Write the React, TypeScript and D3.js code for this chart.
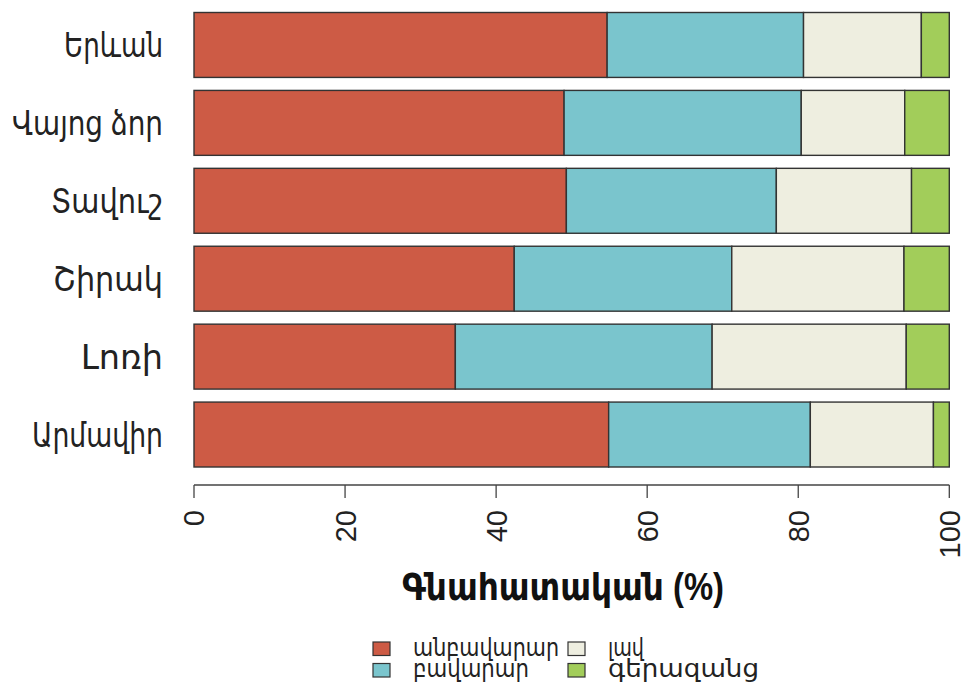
import React from "react";
import * as d3 from "d3";

const categories = ["Երևան", "Վայոց ձոր", "Տավուշ", "Շիրակ", "Լոռի", "Արմավիր"];
const seriesNames = ["անբավարար", "բավարար", "լավ", "գերազանց"];
const unsatisfactory = [54.7, 49.0, 49.3, 42.4, 34.6, 54.9];
const satisfactory = [26.0, 31.4, 27.8, 28.8, 34.0, 26.7];
const good = [15.6, 13.7, 17.9, 22.8, 25.7, 16.3];
const excellent = [3.7, 5.9, 5.0, 6.0, 5.7, 2.1];
const colors = ["#CD5B45", "#7AC5CD", "#EEEEE0", "#A2CD5A"];
const xTicks = [0, 20, 40, 60, 80, 100];
const xTitle = "Գնահատական (%)";

// measured text widths of the reference (narrow Armenian face)
const catLabelWidths = [99, 151, 112, 110, 82, 131];
const legendWidths = [146, 116, 36, 151];

const W = 966;
const H = 696;
const FONT = "'Liberation Sans', Arial, 'Noto Sans', 'DejaVu Sans', sans-serif";

export default function App() {
  const x = d3.scaleLinear().domain([0, 100]).range([194, 949.3]);
  const y = d3.scaleBand<string>().domain(categories).range([12.5, 467]).paddingInner(1 / 6).paddingOuter(0);

  const rows = categories.map((c, i) => ({
    cat: c,
    a: unsatisfactory[i],
    b: satisfactory[i],
    c2: good[i],
    d: excellent[i],
  }));
  const stack = d3.stack<any>().keys(["a", "b", "c2", "d"]);
  const series = stack(rows);

  const axisY = 485;
  const legendCols = [
    { x: 373, items: [0, 1] },
    { x: 568, items: [2, 3] },
  ];
  const legendRowY = [642, 663.5];

  return (
    <svg width={W} height={H} style={{ position: "absolute", left: 0, top: 0, background: "#fff" }} fontFamily={FONT}>
      <rect x={0} y={0} width={W} height={H} fill="#fff" />
      {series.map((s, si) => (
        <g key={si}>
          {s.map((d: any, i: number) => (
            <rect
              key={i}
              x={x(d[0])}
              y={y(categories[i])}
              width={x(d[1]) - x(d[0])}
              height={y.bandwidth()}
              fill={colors[si]}
              stroke="#333"
              strokeWidth={1.4}
            />
          ))}
        </g>
      ))}
      {categories.map((c, i) => (
        <text
          key={c}
          x={163}
          y={(y(c) as number) + y.bandwidth() / 2}
          dy="0.37em"
          textAnchor="end"
          fontSize={33}
          textLength={catLabelWidths[i]}
          lengthAdjust="spacingAndGlyphs"
          fill="#222"
        >
          {c}
        </text>
      ))}
      <line x1={x(0)} x2={x(100)} y1={axisY} y2={axisY} stroke="#444" strokeWidth={1.3} />
      {xTicks.map((t) => (
        <g key={t}>
          <line x1={x(t)} x2={x(t)} y1={axisY} y2={axisY + 13} stroke="#444" strokeWidth={1.3} />
          <text
            transform={`translate(${x(t)},${axisY + 25}) rotate(-90)`}
            textAnchor="end"
            dy="0.36em"
            fontSize={29}
            fill="#222"
          >
            {t}
          </text>
        </g>
      ))}
      <text
        x={563}
        y={600}
        textAnchor="middle"
        fontSize={38}
        fontWeight="bold"
        fill="#111"
        textLength={322}
        lengthAdjust="spacingAndGlyphs"
      >
        {xTitle}
      </text>
      {legendCols.map((col, ci) => (
        <g key={ci}>
          {col.items.map((k, ri) => (
            <rect
              key={k}
              x={col.x}
              y={legendRowY[ri]}
              width={17}
              height={13.5}
              fill={colors[k]}
              stroke="#333"
              strokeWidth={1.2}
            />
          ))}
          <text fontSize={24} fill="#222">
            {col.items.map((k, ri) => (
              <tspan
                key={k}
                x={col.x + 40}
                y={legendRowY[ri] + 13.5}
                textLength={legendWidths[k]}
                lengthAdjust="spacingAndGlyphs"
              >
                {seriesNames[k]}
              </tspan>
            ))}
          </text>
        </g>
      ))}
    </svg>
  );
}
